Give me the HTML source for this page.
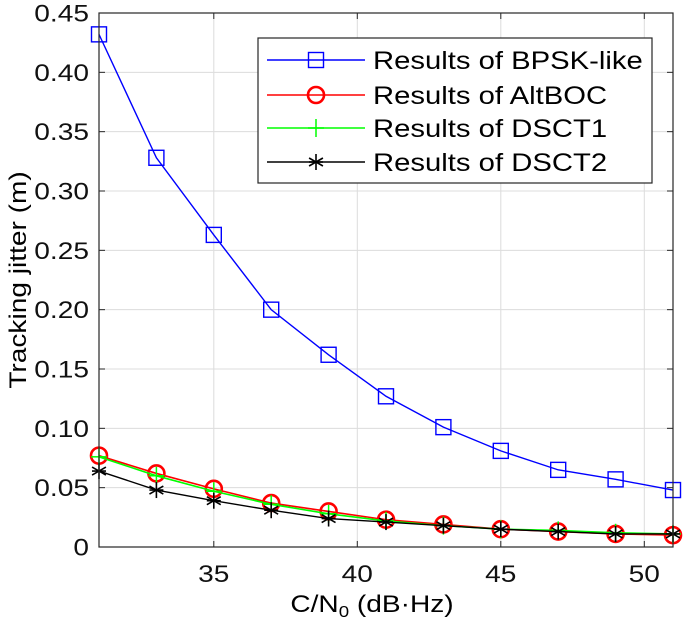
<!DOCTYPE html>
<html><head><meta charset="utf-8"><style>
body{margin:0;background:#fff}
svg{display:block;font-family:"Liberation Sans",Arial,sans-serif}
</style></head><body>
<svg id="chart" width="685" height="621">
<g id="grid"></g>
<g id="series"></g>
<g id="axes"></g>
<text class="st" x="372" y="612" font-size="24" text-anchor="middle">C/N<tspan font-size="16" dy="5">0</tspan><tspan dy="-5"> (dB·Hz)</tspan></text>
<text class="st" transform="translate(26,280) rotate(-90)" font-size="24" text-anchor="middle">Tracking jitter (m)</text>
<g id="legend"></g>
</svg>
<script>
const xs=[31,33,35,37,39,41,43,45,47,49,51];
const bpsk=[0.432,0.328,0.263,0.200,0.162,0.127,0.101,0.081,0.065,0.057,0.048];
const altboc=[0.077,0.062,0.049,0.037,0.030,0.023,0.019,0.015,0.013,0.011,0.010];
const dsct1=[0.076,0.060,0.047,0.036,0.028,0.022,0.018,0.015,0.014,0.012,0.011];
const dsct2=[0.064,0.048,0.039,0.031,0.024,0.021,0.018,0.015,0.013,0.011,0.011];
const xTicks=[35,40,45,50];
const yTicks=[0,0.05,0.10,0.15,0.20,0.25,0.30,0.35,0.40,0.45];
const yTickLabels=["0","0.05","0.10","0.15","0.20","0.25","0.30","0.35","0.40","0.45"];
const names=["Results of BPSK-like","Results of AltBOC","Results of DSCT1","Results of DSCT2"];

const L=99,R=673,T=13,B=547;
const X=v=>L+(v-31)/(51-31)*(R-L);
const Y=v=>B-v/0.45*(B-T);
const NS="http://www.w3.org/2000/svg";
function mk(tag,attrs,parent){const e=document.createElementNS(NS,tag);for(const k in attrs)e.setAttribute(k,attrs[k]);parent.appendChild(e);return e;}
const grid=document.getElementById('grid'),axes=document.getElementById('axes'),ser=document.getElementById('series'),leg=document.getElementById('legend');

xTicks.forEach(t=>{
  const g=mk('line',{x1:X(t),x2:X(t),y1:T,y2:B,stroke:'#dcdcdc','stroke-width':1},grid);
  
  mk('line',{x1:X(t),x2:X(t),y1:B,y2:B-6,stroke:'#262626'},axes);
  mk('line',{x1:X(t),x2:X(t),y1:T,y2:T+6,stroke:'#262626'},axes);
  const tx=mk('text',{class:'st',x:X(t),y:582,'font-size':24,'text-anchor':'middle',fill:'#111'},axes);
  tx.textContent=t;
  
});
yTicks.forEach((t,i)=>{
  const g=mk('line',{x1:L,x2:R,y1:Y(t),y2:Y(t),stroke:'#dcdcdc','stroke-width':1},grid);
  
  mk('line',{x1:L,x2:L+6,y1:Y(t),y2:Y(t),stroke:'#262626'},axes);
  mk('line',{x1:R,x2:R-6,y1:Y(t),y2:Y(t),stroke:'#262626'},axes);
  const tx=mk('text',{class:'st',x:L-10,y:Y(t)+8.5,'font-size':24,'text-anchor':'end',fill:'#111'},axes);
  tx.textContent=yTickLabels[i];
  
});
const frame=mk('rect',{x:L,y:T,width:R-L,height:B-T,fill:'none',stroke:'#262626','stroke-width':1.2},axes);


function marker(type,x,y,color,p){
  if(type==='sq') mk('rect',{x:x-7.5,y:y-7.5,width:15,height:15,fill:'none',stroke:color,'stroke-width':1.4},p);
  else if(type==='o') mk('circle',{cx:x,cy:y,r:8,fill:'none',stroke:color,'stroke-width':2.6},p);
  else if(type==='+'){mk('line',{x1:x-8,x2:x+8,y1:y,y2:y,stroke:color,'stroke-width':1.5},p);mk('line',{x1:x,x2:x,y1:y-9,y2:y+9,stroke:color,'stroke-width':1.5},p);}
  else { [0,60,120].forEach(a=>{const r=a*Math.PI/180,dx=8*Math.sin(r),dy=8*Math.cos(r);mk('line',{x1:x-dx,x2:x+dx,y1:y-dy,y2:y+dy,stroke:color,'stroke-width':1.6},p);});
    mk('line',{x1:x-7,x2:x+7,y1:y,y2:y,stroke:color,'stroke-width':1.6},p);}
}
const specs=[[bpsk,'#0000ff','sq','bpsk-series',1.4],[altboc,'#ff0000','o','altboc-series',1.6],[dsct1,'#00ff00','+','dsct1-series',1.6],[dsct2,'#000000','*','dsct2-series',1.4]];
specs.forEach(([d,c,m,n,w])=>{
  const g=mk('g',{},ser);
  
  mk('polyline',{points:xs.map((x,i)=>X(x)+','+Y(d[i])).join(' '),fill:'none',stroke:c,'stroke-width':w},g);
  xs.forEach((x,i)=>marker(m,X(x),Y(d[i]),c,g));
});
const lb=mk('rect',{x:258,y:38,width:394,height:145,fill:'#fff',stroke:'#262626','stroke-width':1.2},leg);

const ly=[60,95,128,162];
specs.forEach(([d,c,m,n,w],i)=>{
  const g=mk('g',{},leg);
  
  mk('line',{x1:267,x2:365,y1:ly[i],y2:ly[i],stroke:c,'stroke-width':w},g);
  marker(m,316,ly[i],c,g);
  const t=mk('text',{class:'st',x:373,y:ly[i]+9,'font-size':25,fill:'#000'},g);
  t.textContent=names[i];
});
// horizontally widen text to match reference font metrics
document.querySelectorAll('text.st').forEach(t=>{
  const w=t.getComputedTextLength();
  t.setAttribute('textLength',(w*1.17).toFixed(1));
  t.setAttribute('lengthAdjust','spacingAndGlyphs');
});
</script>
</body></html>
